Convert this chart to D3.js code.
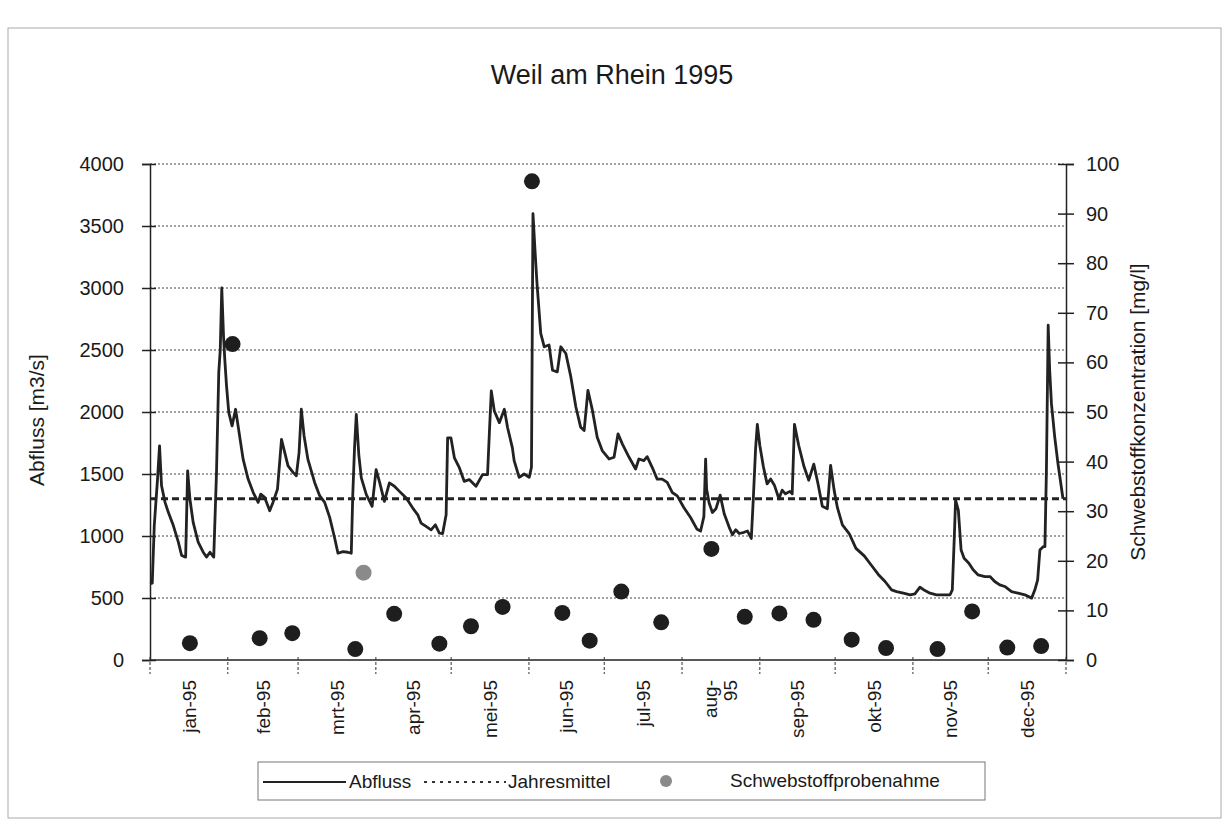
<!DOCTYPE html>
<html>
<head>
<meta charset="utf-8">
<script src="https://cdn.jsdelivr.net/npm/d3@7"></script>
<style>
  body { margin: 0; background: #fff; }
  text { font-family: "Liberation Sans", Arial, sans-serif; fill: #1a1a1a; }
</style>
</head>
<body>
<script>
// month labels of the category axis
const months = ['jan-95', 'feb-95', 'mrt-95', 'apr-95', 'mei-95', 'jun-95',
  'jul-95', 'aug-95', 'sep-95', 'okt-95', 'nov-95', 'dec-95'];

// Abfluss [m3/s] as [day of year, value]
const abfluss = [
  [0, 615], [0.9, 620], [1.7, 1084], [3.0, 1459], [3.8, 1727], [4.6, 1405], [6.0, 1271], [7.3, 1191],
  [9.3, 1084], [11.3, 950], [12.6, 843], [14.2, 830], [15.0, 1526], [15.9, 1298], [17.2, 1110],
  [19.2, 950], [21.2, 869], [22.5, 830], [23.9, 869], [25.4, 830], [26.5, 1513], [27.4, 2317],
  [28.0, 2504], [28.6, 3000], [29.3, 2611], [29.8, 2424], [30.5, 2209], [31.4, 1995], [32.7, 1888],
  [34.1, 2022], [35.1, 1888], [37.1, 1620], [39.1, 1459], [41.1, 1352], [43.1, 1271], [44.1, 1338],
  [45.7, 1311], [47.7, 1204], [49.0, 1271], [50.8, 1378], [52.4, 1780], [53.7, 1673], [55.0, 1566],
  [57.0, 1513], [58.3, 1486], [59.4, 1673], [60.3, 2022], [61.4, 1807], [62.9, 1620], [65.6, 1432],
  [67.6, 1325], [69.6, 1271], [71.6, 1150], [73.6, 982], [74.9, 861], [76.9, 874], [78.8, 869],
  [80.2, 861], [80.8, 1333], [81.5, 1711], [82.2, 1980], [83.2, 1657], [84.2, 1468], [86.2, 1333],
  [88.5, 1239], [90.1, 1536], [91.4, 1441], [93.4, 1279], [95.4, 1428], [97.4, 1401], [99.4, 1360],
  [102.1, 1306], [104.7, 1225], [106.7, 1171], [108.0, 1104], [110.0, 1077], [112.0, 1050],
  [113.7, 1090], [115.3, 1023], [116.6, 1020], [118.0, 1171], [118.6, 1792], [119.9, 1792],
  [121.3, 1630], [123.3, 1549], [125.2, 1441], [127.2, 1455], [129.9, 1401], [132.5, 1495],
  [134.5, 1495], [135.2, 1819], [136.0, 2170], [137.2, 2008], [139.2, 1914], [141.2, 2022],
  [142.5, 1873], [144.4, 1711], [145.1, 1608], [147.1, 1473], [149.1, 1500], [151.1, 1473],
  [152.0, 1554], [152.6, 3600], [153.4, 3309], [154.2, 3039], [154.7, 2904], [155.7, 2634],
  [157.1, 2526], [159.0, 2540], [160.4, 2337], [162.3, 2324], [163.7, 2526], [165.7, 2472],
  [167.7, 2283], [169.7, 2040], [171.6, 1878], [173.0, 1851], [174.5, 2175], [176.3, 2013],
  [178.2, 1797], [180.2, 1689], [182.9, 1621], [184.9, 1635], [186.5, 1824], [188.2, 1743],
  [190.9, 1635], [193.5, 1540], [194.8, 1621], [196.8, 1608], [198.1, 1640], [200.1, 1554],
  [202.1, 1459], [204.1, 1459], [206.1, 1432], [208.1, 1351], [210.1, 1324], [212.7, 1230],
  [215.4, 1149], [218.0, 1054], [219.4, 1040], [220.7, 1156], [221.4, 1620], [221.8, 1376],
  [222.8, 1266], [224.1, 1190], [225.5, 1220], [227.2, 1330], [228.8, 1180], [230.8, 1070],
  [232.1, 1010], [233.4, 1050], [234.8, 1020], [236.7, 1030], [238.1, 1040], [239.6, 980],
  [240.4, 1300], [241.3, 1700], [242.0, 1900], [243.0, 1730], [244.4, 1560], [245.9, 1420],
  [247.3, 1460], [248.8, 1410], [250.6, 1300], [251.9, 1370], [253.2, 1340], [255.0, 1360],
  [255.9, 1340], [256.8, 1900], [258.5, 1730], [260.6, 1560], [262.5, 1450], [264.5, 1580],
  [266.2, 1420], [267.9, 1240], [269.9, 1220], [271.2, 1570], [272.6, 1370], [273.9, 1230],
  [275.9, 1090], [278.6, 1020], [281.3, 900], [284.6, 840], [287.6, 760], [290.2, 690],
  [292.9, 633], [295.5, 566], [297.5, 552], [300.2, 539], [302.9, 526], [304.8, 534], [306.8, 587],
  [308.8, 560], [310.8, 539], [313.4, 526], [316.1, 526], [318.8, 526], [319.7, 566], [320.5, 995],
  [321.0, 1290], [322.1, 1209], [323.2, 887], [324.4, 820], [326.3, 780], [328.0, 727],
  [330.0, 686], [332.7, 673], [334.7, 673], [336.6, 633], [338.6, 606], [340.6, 593], [343.3, 552],
  [345.9, 539], [348.6, 526], [351.3, 499], [352.6, 566], [353.7, 646], [354.6, 887], [355.9, 914],
  [356.6, 914], [357.2, 1531], [357.9, 2700], [358.5, 2335], [359.2, 2067], [360.5, 1800],
  [361.8, 1584], [363.8, 1300]
];

// Jahresmittel [m3/s]
const jahresmittel = 1300;

// Schwebstoffprobenahme: day of year and concentration [mg/l]
const probeDay = [15.9, 32.9, 43.7, 56.7, 81.8, 85.1, 97.3, 115.3, 127.9, 140.5, 152.2, 164.3, 175.2,
  187.8, 203.7, 223.7, 237.0, 250.8, 264.4, 279.6, 293.3, 313.8, 327.6, 341.6, 355.1];
const probeConc = [3.4, 63.7, 4.4, 5.4, 2.2, 17.6, 9.3, 3.3, 6.8, 10.7, 96.5, 9.5, 3.9,
  13.8, 7.6, 22.4, 8.7, 9.4, 8.1, 4.1, 2.4, 2.2, 9.8, 2.5, 2.8];
// the one sample drawn in grey
const greyProbe = 5;

const leftTicks = d3.range(0, 4001, 500);
const rightTicks = d3.range(0, 101, 10);

const W = 1228, H = 830;
const plot = { left: 150, right: 1066, top: 164, bottom: 660 };

const svg = d3.select('body').append('svg')
  .attr('width', W)
  .attr('height', H);

/** outer frame of the scanned chart */
svg.append('rect')
  .attr('x', 8).attr('y', 28)
  .attr('width', 1213).attr('height', 790)
  .attr('fill', 'none')
  .attr('stroke', '#aaa')
  .attr('stroke-width', 1);

const yearStart = new Date(1995, 0, 1);
const dayOf = d => d3.timeDay.count(yearStart, d);

const x = d3.scaleLinear().domain([0, 365]).range([plot.left, plot.right]);
const y = d3.scaleLinear().domain([0, 4000]).range([plot.bottom, plot.top]);
const y2 = d3.scaleLinear().domain([0, 100]).range([plot.bottom, plot.top]);

const monthStarts = d3.timeMonth.range(yearStart, new Date(1996, 0, 2)).map(dayOf);

// title
svg.append('text')
  .attr('x', 612).attr('y', 84)
  .attr('text-anchor', 'middle')
  .attr('font-size', 27)
  .text('Weil am Rhein 1995');

// gridlines
svg.append('g')
  .selectAll('line')
  .data(leftTicks.filter(d => d > 0))
  .enter().append('line')
  .attr('x1', plot.left).attr('x2', plot.right)
  .attr('y1', d => y(d)).attr('y2', d => y(d))
  .attr('stroke', '#444')
  .attr('stroke-width', 1)
  .attr('stroke-dasharray', '2,2');

// left axis
const gl = svg.append('g')
  .attr('transform', `translate(${plot.left},0)`)
  .call(d3.axisLeft(y).tickValues(leftTicks).tickFormat(d3.format('d')).tickSize(8).tickPadding(18));
gl.select('.domain').attr('stroke', '#222').attr('stroke-width', 1.5);
gl.selectAll('.tick line').attr('x1', 6).attr('stroke', '#222').attr('stroke-width', 1.5);
gl.selectAll('.tick text').attr('font-size', 20).attr('font-family', null);

// right axis
const gr = svg.append('g')
  .attr('transform', `translate(${plot.right},0)`)
  .call(d3.axisRight(y2).tickValues(rightTicks).tickFormat(d3.format('d')).tickSize(8).tickPadding(12));
gr.select('.domain').attr('stroke', '#222').attr('stroke-width', 1.5);
gr.selectAll('.tick line').attr('x1', -8).attr('stroke', '#222').attr('stroke-width', 1.5);
gr.selectAll('.tick text').attr('font-size', 20).attr('font-family', null);

// bottom axis: month boundaries as ticks, labels centred in each month
const gb = svg.append('g');
gb.append('line')
  .attr('x1', plot.left).attr('x2', plot.right)
  .attr('y1', plot.bottom).attr('y2', plot.bottom)
  .attr('stroke', '#222').attr('stroke-width', 1.5);
gb.selectAll('.mtick')
  .data(monthStarts)
  .enter().append('line')
  .attr('class', 'mtick')
  .attr('x1', d => x(d)).attr('x2', d => x(d))
  .attr('y1', plot.bottom - 3).attr('y2', plot.bottom + 14)
  .attr('stroke', '#333').attr('stroke-dasharray', '3,2');

const labels = gb.selectAll('.mlabel')
  .data(months)
  .enter().append('text')
  .attr('class', 'mlabel')
  .attr('font-size', 19)
  .attr('text-anchor', 'end')
  .attr('transform', (d, i) => `translate(${x((monthStarts[i] + monthStarts[i + 1]) / 2)},680) rotate(-90)`);
labels.filter(d => d !== 'aug-95')
  .attr('dy', '0.35em')
  .text(d => d);
labels.filter(d => d === 'aug-95').each(function (d) {
  const parts = d.split('-');
  const t = d3.select(this);
  t.append('tspan').attr('x', 0).attr('dy', '-0.2em').text(parts[0] + '-');
  t.append('tspan').attr('x', 0).attr('dy', '1.05em').text(parts[1]);
});

// axis titles
svg.append('text')
  .attr('transform', `translate(44,${(plot.top + plot.bottom) / 2 + 8}) rotate(-90)`)
  .attr('text-anchor', 'middle')
  .attr('font-size', 21)
  .text('Abfluss [m3/s]');

svg.append('text')
  .attr('transform', `translate(1145,${(plot.top + plot.bottom) / 2}) rotate(-90)`)
  .attr('text-anchor', 'middle')
  .attr('font-size', 21)
  .text('Schwebstoffkonzentration [mg/l]');

// Jahresmittel
svg.append('line')
  .attr('x1', plot.left).attr('x2', plot.right)
  .attr('y1', y(jahresmittel)).attr('y2', y(jahresmittel))
  .attr('stroke', '#222')
  .attr('stroke-width', 3)
  .attr('stroke-dasharray', '7,4');

// Abfluss line
const line = d3.line()
  .x(d => x(d[0]))
  .y(d => y(d[1]));

svg.append('path')
  .datum(abfluss)
  .attr('d', line)
  .attr('fill', 'none')
  .attr('stroke', '#222')
  .attr('stroke-width', 2.8)
  .attr('stroke-linejoin', 'round');

// samples
svg.append('g')
  .selectAll('circle')
  .data(probeDay)
  .enter().append('circle')
  .attr('cx', d => x(d))
  .attr('cy', (d, i) => y2(probeConc[i]))
  .attr('r', 8)
  .attr('fill', (d, i) => i === greyProbe ? '#8a8a8a' : '#1e1e1e');

// legend
const lg = svg.append('g');
lg.append('rect')
  .attr('x', 258).attr('y', 762)
  .attr('width', 727).attr('height', 38)
  .attr('fill', '#fff')
  .attr('stroke', '#777');
lg.append('line')
  .attr('x1', 263).attr('x2', 346).attr('y1', 782).attr('y2', 782)
  .attr('stroke', '#222').attr('stroke-width', 2);
lg.append('text').attr('x', 349).attr('y', 788).attr('font-size', 19).text('Abfluss');
lg.append('line')
  .attr('x1', 424).attr('x2', 506).attr('y1', 782).attr('y2', 782)
  .attr('stroke', '#333').attr('stroke-width', 2).attr('stroke-dasharray', '3,5');
lg.append('text').attr('x', 508).attr('y', 788).attr('font-size', 19).text('Jahresmittel');
lg.append('circle')
  .attr('cx', 666).attr('cy', 781).attr('r', 6)
  .attr('fill', '#8a8a8a');
lg.append('text').attr('x', 730).attr('y', 787).attr('font-size', 19).text('Schwebstoffprobenahme');
</script>
</body>
</html>
